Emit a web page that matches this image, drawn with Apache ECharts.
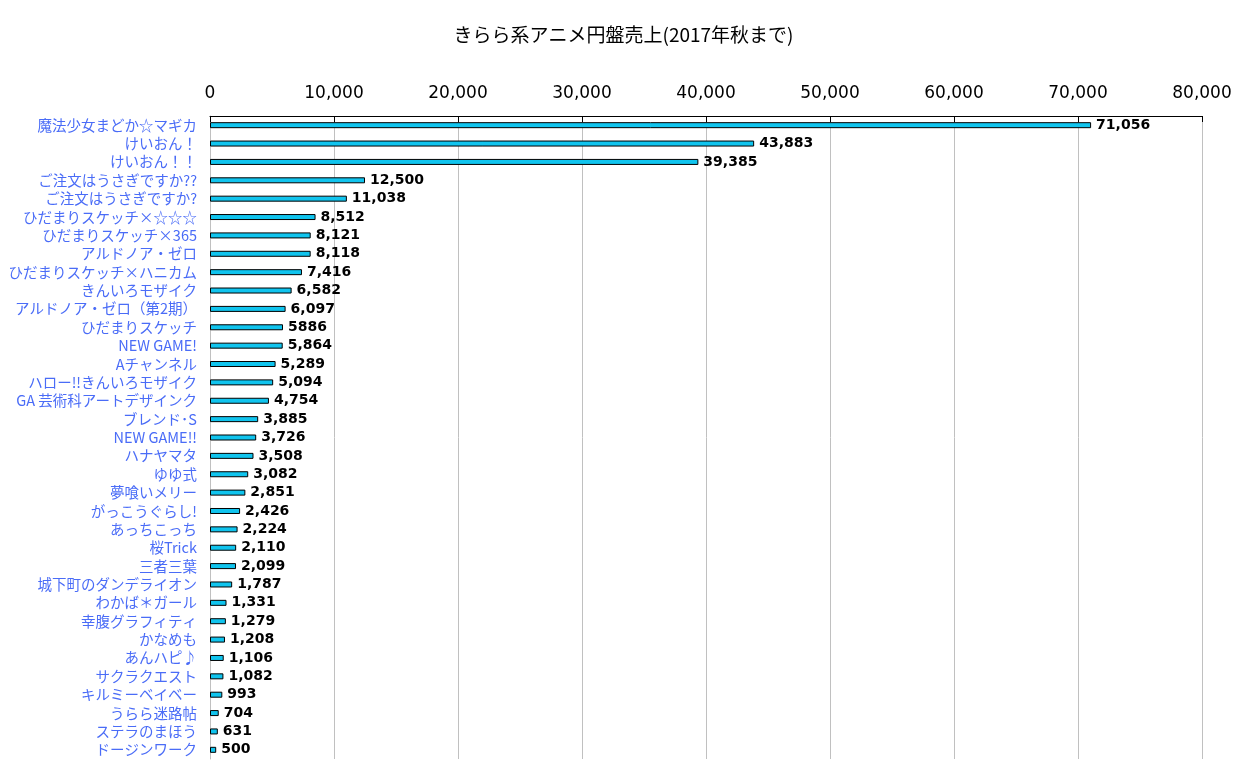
<!DOCTYPE html>
<html><head><meta charset="utf-8">
<script src="https://cdn.jsdelivr.net/npm/echarts@6/dist/echarts.min.js"></script>
<style>html,body{margin:0;padding:0;background:#fff}#c{width:1247px;height:772px}</style>
</head><body><div id="c"></div>
<script>
const titleText = 'きらら系アニメ円盤売上(2017年秋まで)';
const categories = ['魔法少女まどか☆マギカ','けいおん！','けいおん！！','ご注文はうさぎですか??','ご注文はうさぎですか?','ひだまりスケッチ×☆☆☆','ひだまりスケッチ×365','アルドノア・ゼロ','ひだまりスケッチ×ハニカム','きんいろモザイク','アルドノア・ゼロ（第2期）','ひだまりスケッチ','NEW GAME!','Aチャンネル','ハロー!!きんいろモザイク','GA 芸術科アートデザインク','ブレンド･S','NEW GAME!!','ハナヤマタ','ゆゆ式','夢喰いメリー','がっこうぐらし!','あっちこっち','桜Trick','三者三葉','城下町のダンデライオン','わかば＊ガール','幸腹グラフィティ','かなめも','あんハピ♪','サクラクエスト','キルミーベイベー','うらら迷路帖','ステラのまほう','ドージンワーク'];
const sales = [71056,43883,39385,12500,11038,8512,8121,8118,7416,6582,6097,5886,5864,5289,5094,4754,3885,3726,3508,3082,2851,2426,2224,2110,2099,1787,1331,1279,1208,1106,1082,993,704,631,500];
const labelTexts = ['71,056','43,883','39,385','12,500','11,038','8,512','8,121','8,118','7,416','6,582','6,097','5886','5,864','5,289','5,094','4,754','3,885','3,726','3,508','3,082','2,851','2,426','2,224','2,110','2,099','1,787','1,331','1,279','1,208','1,106','1,082','993','704','631','500'];
const xTicks = ['0','10,000','20,000','30,000','40,000','50,000','60,000','70,000','80,000'];

const chart = echarts.init(document.getElementById('c'));
chart.setOption({
  animation: false,
  backgroundColor: '#fff',
  title: {text: titleText, left: 'center', top: 20, textStyle: {fontSize: 19, fontWeight: 'normal', color: '#000', fontFamily: '"Noto Sans CJK JP", sans-serif'}},
  grid: {left: 210, right: 45, top: 116, bottom: 13, containLabel: false},
  xAxis: {
    type: 'value', position: 'top', min: 0, max: 80000, interval: 10000,
    axisLine: {show: true, lineStyle: {color: '#000', width: 1}},
    axisTick: {show: true, inside: true, length: 6, lineStyle: {color: '#000'}},
    axisLabel: {margin: 14, fontSize: 17, color: '#000', fontFamily: '"DejaVu Sans", sans-serif',
      formatter: (v) => xTicks[Math.round(v / 10000)]},
    splitLine: {show: true, lineStyle: {color: '#c0c0c0', width: 1}}
  },
  yAxis: {
    type: 'category', data: categories, inverse: true,
    axisLine: {show: true, lineStyle: {color: '#c0c0c0'}},
    axisTick: {show: false},
    axisLabel: {interval: 0, margin: 13, fontSize: 14.5, lineHeight: 16, color: '#4a6cf7', fontFamily: '"Noto Sans CJK JP", sans-serif'}
  },
  series: [{
    type: 'bar', data: sales, barWidth: 6,
    itemStyle: {color: '#10c4ee', borderColor: '#000', borderWidth: 1},
    label: {show: true, position: 'right', distance: 5, fontSize: 14, fontWeight: 'bold', color: '#000',
      fontFamily: '"DejaVu Sans", sans-serif', formatter: (p) => labelTexts[p.dataIndex]}
  }]
});
</script></body></html>
